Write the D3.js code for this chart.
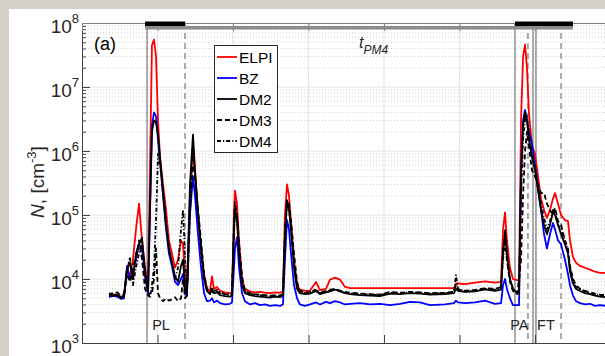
<!DOCTYPE html>
<html>
<head>
<meta charset="utf-8">
<script src="https://cdn.jsdelivr.net/npm/d3@7"></script>
<style>
  body { margin: 0; background: #d4d0c8; }
  svg { display: block; font-family: Arial, "Liberation Sans", sans-serif; }
</style>
</head>
<body>
<svg id="chart" width="605" height="356"></svg>
<script>
// time in minutes (one grid step = 60 min)
const timeMin = [21.5, 24.6, 27.8, 31.0, 33.4, 35.8, 38.1, 40.5, 42.9, 45.3, 47.7, 50.1, 52.5, 54.0, 55.6, 57.2, 58.8, 60.4, 62.0, 64.4,
  66.8, 69.1, 71.5, 73.9, 76.3, 78.7, 80.3, 81.9, 83.4, 85.8, 88.2, 89.8, 92.2, 94.6, 97.0, 99.3, 101.7, 103.3, 104.9, 107.3,
  109.7, 113.6, 117.6, 119.2, 120.8, 121.6, 123.2, 124.8, 127.2, 129.5, 133.5, 137.5, 141.5, 145.4, 149.4, 153.4, 157.4, 159.7, 161.3, 162.9,
  164.5, 166.1, 168.5, 170.9, 173.2, 177.2, 181.2, 186.0, 189.1, 193.9, 197.1, 201.1, 205.0, 209.0, 213.0, 220.9, 228.9, 236.8, 244.8, 252.7,
  260.7, 268.6, 276.6, 288.5, 295.6, 297.2, 298.8, 304.4, 312.3, 320.3, 328.2, 333.0, 334.6, 336.2, 337.7, 340.1, 342.5, 345.7, 347.3, 348.9,
  350.5, 352.1, 353.6, 355.2, 357.6, 360.0, 362.4, 364.8, 367.2, 369.5, 371.9, 374.3, 375.9, 378.3, 380.7, 383.8, 386.2, 387.8, 390.2, 392.6,
  395.8, 399.7, 403.7, 407.7, 411.6, 416.4];

const elpi = [5.5e3, 5.8e3, 5.5e3, 5.2e3, 5.6e3, 1.5e4, 1.1e4, 2.0e4, 6e4, 1.5e5, 4e4, 1.5e4, 8e3, 5e5, 4.5e7, 5.5e7, 3e7, 3e6, 8e5, 3e5,
  1.2e5, 4e4, 2.5e4, 1.5e4, 2e4, 4e4, 3.5e4, 1e4, 7e3, 2e5, 1.3e6, 5e5, 1e5, 3e4, 1.2e4, 7e3, 6.5e3, 1.1e4, 7e3, 7.5e3,
  6.5e3, 6.2e3, 6.0e3, 6.2e3, 1.2e5, 2.4e5, 1.5e5, 4e4, 1e4, 7e3, 6.4e3, 6.2e3, 6.3e3, 6.1e3, 6.0e3, 6.2e3, 6.1e3, 6.5e3, 1e5, 3e5,
  2e5, 8e4, 2e4, 8e3, 6.8e3, 6.5e3, 6.6e3, 9e3, 6.7e3, 7e3, 9.8e3, 1.05e4, 9.8e3, 7.5e3, 7.2e3, 7.2e3, 7.2e3, 7.2e3, 7.2e3, 7.2e3,
  7.2e3, 7.2e3, 7.2e3, 7.2e3, 7.2e3, 8.5e3, 8.5e3, 8.3e3, 8.8e3, 9.2e3, 8.8e3, 9e3, 6e4, 1.1e5, 4e4, 1.5e4, 1e4, 9.6e3, 9.6e3, 3e6,
  3e7, 4.6e7, 2e7, 4e6, 1.2e6, 9e5, 4e5, 1.8e5, 1.2e5, 9e4, 1.2e5, 1.8e5, 2.2e5, 1.5e5, 1e5, 8.3e4, 8e4, 4e4, 2.2e4, 1.8e4,
  1.6e4, 1.5e4, 1.4e4, 1.3e4, 1.25e4, 1.25e4];

const bz = [5.2e3, 5.5e3, 5.3e3, 4.9e3, 5.0e3, 1.6e4, 1.0e4, 1.2e4, 2.0e4, 3.5e4, 3e4, 1.1e4, 6e3, 1e5, 2.5e6, 4e6, 3.5e6, 1.5e6, 7e5, 2e5,
  6e4, 2.5e4, 1.6e4, 9e3, 8e3, 1e4, 1.2e4, 6e3, 5.5e3, 1e5, 4e5, 2e5, 5e4, 1.5e4, 6e3, 4.5e3, 4.6e3, 5e3, 4.3e3, 4.6e3,
  4.2e3, 4.0e3, 4.1e3, 4.3e3, 1.5e4, 3e4, 4.5e4, 1.5e4, 6e3, 4.5e3, 4.0e3, 4.2e3, 3.9e3, 4.0e3, 3.8e3, 3.9e3, 3.8e3, 4.0e3, 2e4, 8.4e4,
  6e4, 2.5e4, 8e3, 5e3, 4.0e3, 3.8e3, 4.0e3, 4.3e3, 4.0e3, 4.4e3, 4.2e3, 4.5e3, 4.3e3, 4.0e3, 4.1e3, 4.2e3, 4.0e3, 4.1e3, 3.9e3, 4.1e3,
  4.4e3, 4.3e3, 3.9e3, 4.0e3, 4.2e3, 4.6e3, 4.3e3, 4.2e3, 4.3e3, 4.6e3, 4.1e3, 4.2e3, 8e3, 1e4, 7e3, 5e3, 3.9e3, 3.9e3, 3.9e3, 5e5,
  3e6, 4.4e6, 3e6, 2e6, 1.3e6, 6e5, 2.5e5, 1.2e5, 5e4, 3e4, 5e4, 7.5e4, 6e4, 4e4, 3.5e4, 2e4, 1.2e4, 8e3, 5.5e3, 4.5e3,
  4.2e3, 4.0e3, 4.1e3, 3.8e3, 3.9e3, 3.8e3];

const dm2 = [5.6e3, 5.4e3, 5.7e3, 5.0e3, 5.4e3, 1.4e4, 1.8e4, 1.0e4, 2.5e4, 3.5e4, 4.4e4, 1.2e4, 6.5e3, 1.2e5, 2e6, 3e6, 2.8e6, 1.8e6, 8e5, 2.2e5,
  7e4, 3e4, 1.8e4, 1.1e4, 9e3, 1.6e4, 2e4, 7e3, 6e3, 3e5, 1.8e6, 5e5, 1.1e5, 3e4, 1e4, 6.5e3, 5.8e3, 7e3, 6e3, 6.2e3,
  5.6e3, 5.4e3, 5.3e3, 5.5e3, 6e4, 1.3e5, 8e4, 2.5e4, 8e3, 6e3, 5.6e3, 5.4e3, 5.3e3, 5.2e3, 5.1e3, 5.3e3, 5.2e3, 5.5e3, 4e4, 1.7e5,
  1.2e5, 6e4, 1.5e4, 7e3, 6e3, 5.8e3, 5.9e3, 6.5e3, 5.8e3, 6.2e3, 6.4e3, 6.8e3, 6.4e3, 6e3, 5.8e3, 5.6e3, 5.5e3, 5.4e3, 5.9e3, 5.8e3,
  6e3, 5.9e3, 5.7e3, 5.8e3, 6e3, 7e3, 6.5e3, 6.3e3, 6.4e3, 6.9e3, 6.5e3, 6.8e3, 2.5e4, 5.8e4, 2.5e4, 1e4, 7e3, 6e3, 6e3, 4e5,
  2.5e6, 4e6, 3e6, 1.5e6, 8e5, 5e5, 2.5e5, 1.2e5, 7e4, 5e4, 7e4, 1.1e5, 1e5, 7e4, 5e4, 3.5e4, 2.5e4, 1.3e4, 8.5e3, 7e3,
  6.5e3, 6e3, 5.8e3, 5.5e3, 5.3e3, 5.2e3];

const dm3 = [6.0e3, 5.6e3, 6.2e3, 5.5e3, 5.8e3, 1.2e4, 9e3, 1.6e4, 2.2e4, 4e4, 2e4, 7e3, 5.5e3, 6e3, 6e3, 1e4, 3e4, 6e3, 5e3, 4.5e3,
  5e3, 4.6e3, 4.8e3, 5.2e3, 4.5e3, 5e3, 1e4, 5e3, 5.5e3, 1.5e5, 6e5, 4e5, 1.2e5, 4e4, 1.2e4, 7e3, 6.2e3, 6.5e3, 6e3, 6.4e3,
  6e3, 5.8e3, 5.7e3, 5.9e3, 8e4, 1.6e5, 1e5, 3.5e4, 1.1e4, 6.5e3, 6e3, 5.8e3, 5.7e3, 5.6e3, 5.5e3, 5.6e3, 5.5e3, 5.8e3, 6e4, 1.5e5,
  1.5e5, 8e4, 2.5e4, 9e3, 6.5e3, 6.2e3, 6.3e3, 6.6e3, 6.2e3, 6.5e3, 6.8e3, 7e3, 6.6e3, 6.3e3, 6.1e3, 5.9e3, 5.8e3, 5.7e3, 6.3e3, 6.1e3,
  6.3e3, 6.2e3, 6.0e3, 6.1e3, 6.3e3, 8e3, 6.8e3, 6.6e3, 6.7e3, 7.2e3, 7e3, 7.5e3, 3e4, 5e4, 2e4, 9e3, 6.5e3, 5.8e3, 1e4, 2e4,
  2e5, 1e6, 2e6, 1.2e6, 5e5, 4e5, 3e5, 2.2e5, 2.2e5, 1.5e5, 1.2e5, 1e5, 1.3e5, 8e4, 7e4, 4e4, 3e4, 1.6e4, 1e4, 8e3,
  7e3, 6.5e3, 6.2e3, 5.9e3, 5.7e3, 5.6e3];

const dm4 = [5.8e3, 6.0e3, 5.5e3, 5.3e3, 5.6e3, 1.3e4, 2.2e4, 8e3, 1.5e4, 2.5e4, 3.5e4, 1.4e4, 6e3, 5e3, 8e3, 1.5e4, 8e4, 9e5, 6e5, 2.5e5,
  8e4, 3e4, 1.8e4, 1e4, 1.5e4, 6e4, 1.2e5, 2e4, 6e3, 1e5, 1e6, 4e5, 1e5, 3e4, 1.1e4, 6.5e3, 6e3, 7.5e3, 6.5e3, 6.8e3,
  6.2e3, 5.8e3, 5.6e3, 5.8e3, 5e4, 1.2e5, 9e4, 3e4, 9e3, 6.4e3, 5.9e3, 5.7e3, 5.6e3, 5.5e3, 5.4e3, 5.5e3, 5.4e3, 5.7e3, 5e4, 1.6e5,
  1.3e5, 6e4, 1.8e4, 8e3, 6.2e3, 6.0e3, 6e3, 7e3, 6e3, 6.3e3, 6.6e3, 7e3, 6.5e3, 6.2e3, 6e3, 5.8e3, 5.7e3, 5.6e3, 6.1e3, 6.0e3,
  6.2e3, 6.1e3, 5.9e3, 6e3, 6.2e3, 1.15e4, 7e3, 6.5e3, 6.6e3, 7e3, 6.8e3, 7.4e3, 2e4, 4e4, 2e4, 1e4, 7e3, 6e3, 6e3, 2e5,
  1.5e6, 3e6, 3.5e6, 2e6, 9e5, 6e5, 3e5, 1.5e5, 9e4, 6e4, 8e4, 1.2e5, 1.1e5, 7e4, 6e4, 4e4, 2.8e4, 1.5e4, 9e3, 7.5e3,
  7e3, 6.4e3, 6e3, 5.7e3, 5.5e3, 5.4e3];

const seriesNames = ["ELPI", "BZ", "DM2", "DM3", "DM4"];
const seriesValues = [elpi, bz, dm2, dm3, dm4];
const seriesColors = ["#ff0000", "#0000ff", "#000000", "#000000", "#000000"];
const seriesDash = [null, null, null, "5,3", "4,2,1.2,2"];

const eventTimes = [51.7, 81.9, 344.1, 354.4, 358.4, 360.8, 380.7];
const eventDashed = [false, true, false, true, false, false, true];
const periodNames = ["PL", "PA", "FT"];
const periodCentres = [62.8, 347.6, 368.7];
const pm4Spans = [[50.1, 81.9], [344.1, 390.2]];
const pm4Range = [50.1, 390.2];

const yMajor = [1e3, 1e4, 1e5, 1e6, 1e7, 1e8];
const xTicks = [0, 60, 120, 180, 240, 300, 360, 420];

const svg = d3.select("#chart");
svg.append("rect").attr("x", 9).attr("y", 9).attr("width", 600).attr("height", 350).attr("fill", "#fff");

const x = d3.scaleLinear().domain([0, 420]).range([82, 610.5]);
const y = d3.scaleLog().domain([1e3, 1e8]).range([343, 23]);

const yMinor = [];
for (let d = 3; d < 8; d++) for (let k = 2; k <= 9; k++) yMinor.push(k * Math.pow(10, d));

// grid
const grid = svg.append("g");
grid.selectAll(".mn").data(yMinor).enter().append("line")
  .attr("x1", 82).attr("x2", 605)
  .attr("y1", d => y(d)).attr("y2", d => y(d))
  .attr("stroke", "#cfcfcf").attr("stroke-dasharray", "1,2");
grid.selectAll(".mj").data(yMajor.slice(1, -1)).enter().append("line")
  .attr("x1", 82).attr("x2", 605)
  .attr("y1", d => y(d)).attr("y2", d => y(d))
  .attr("stroke", "#e3e3e3");
grid.selectAll(".vx").data(xTicks.slice(1)).enter().append("line")
  .attr("x1", d => x(d)).attr("x2", d => x(d))
  .attr("y1", 23).attr("y2", 343)
  .attr("stroke", "#e3e3e3");

// event markers
svg.append("g").selectAll("line").data(eventTimes).enter().append("line")
  .attr("x1", d => x(d)).attr("x2", d => x(d))
  .attr("y1", 23).attr("y2", 343)
  .attr("stroke", "#808080").attr("stroke-width", 1.3)
  .attr("stroke-dasharray", (d, i) => eventDashed[i] ? "6,4" : null);

svg.append("defs").append("clipPath").attr("id", "clip")
  .append("rect").attr("x", 82).attr("y", 23).attr("width", 530).attr("height", 320);

const line = d3.line().x(d => x(d[0])).y(d => y(d[1]));
svg.append("g").attr("clip-path", "url(#clip)")
  .selectAll("path").data(seriesValues).enter().append("path")
  .attr("d", vals => line(timeMin.map((t, i) => [t, vals[i]])))
  .attr("fill", "none")
  .attr("stroke", (d, i) => seriesColors[i])
  .attr("stroke-width", 1.8)
  .attr("stroke-dasharray", (d, i) => seriesDash[i])
  .attr("stroke-linejoin", "round");

// axes
const axisCol = "#404040";
const gl = svg.append("g").attr("transform", "translate(82,0)")
  .call(d3.axisLeft(y).tickValues(yMinor).tickSize(-4).tickSizeOuter(0).tickFormat(""));
gl.selectAll("line,path").attr("stroke", axisCol);
const gm = svg.append("g").attr("transform", "translate(82,0)")
  .call(d3.axisLeft(y).tickValues(yMajor).tickSize(-8).tickSizeOuter(0).tickFormat(""));
gm.selectAll("line,path").attr("stroke", axisCol);
gm.selectAll(".tick").each(function(d) {
  const t = d3.select(this).append("text")
    .attr("x", -3).attr("y", 9).attr("text-anchor", "end")
    .attr("fill", "#262626").attr("font-size", 19);
  t.append("tspan").text("10");
  t.append("tspan").attr("font-size", 13).attr("dy", -10).text(Math.round(Math.log10(d)));
});

const gb = svg.append("g").attr("transform", "translate(0,343)")
  .call(d3.axisBottom(x).tickValues(xTicks).tickSize(-8).tickSizeOuter(0).tickFormat(""));
gb.selectAll("line,path").attr("stroke", axisCol);
const gt = svg.append("g").attr("transform", "translate(0,23)")
  .call(d3.axisTop(x).tickValues(xTicks).tickSize(-8).tickSizeOuter(0).tickFormat(""));
gt.selectAll("line,path").attr("stroke", "#808080");

// PM4 period bars
svg.append("rect").attr("x", x(pm4Range[0])).attr("y", 26)
  .attr("width", x(pm4Range[1]) - x(pm4Range[0])).attr("height", 3.5).attr("fill", "#8c8c8c");
svg.append("g").selectAll("rect").data(pm4Spans).enter().append("rect")
  .attr("x", d => x(d[0])).attr("y", 21.5)
  .attr("width", d => x(d[1]) - x(d[0])).attr("height", 4.5).attr("fill", "#000");

// period labels
svg.append("g").selectAll("text").data(periodNames).enter().append("text")
  .attr("x", (d, i) => x(periodCentres[i])).attr("y", 330)
  .attr("text-anchor", "middle").attr("font-size", 14.5).attr("fill", "#262626")
  .text(d => d);

const tl = svg.append("text").attr("x", 359).attr("y", 48)
  .attr("font-style", "italic").attr("font-size", 16).attr("fill", "#262626");
tl.append("tspan").text("t");
tl.append("tspan").attr("font-size", 12).attr("dy", 6).text("PM4");

svg.append("text").attr("x", 94).attr("y", 50).attr("font-size", 18).attr("fill", "#000").text("(a)");

// y label
const yl = svg.append("text").attr("transform", "translate(44,182) rotate(-90)")
  .attr("text-anchor", "middle").attr("font-size", 19).attr("fill", "#262626");
yl.append("tspan").attr("font-style", "italic").text("N");
yl.append("tspan").text(", [cm");
yl.append("tspan").attr("font-size", 13).attr("dy", -8).text("-3");
yl.append("tspan").attr("dy", 8).text("]");

// legend
const lg = svg.append("g");
lg.append("rect").attr("x", 214.5).attr("y", 45.5).attr("width", 63).attr("height", 107)
  .attr("fill", "#fff").attr("stroke", "#262626");
const rows = lg.selectAll(".row").data(seriesNames).enter().append("g")
  .attr("transform", (d, i) => `translate(0,${57 + i * 21})`);
rows.append("line").attr("x1", 217).attr("x2", 237)
  .attr("stroke", (d, i) => seriesColors[i]).attr("stroke-width", 1.8)
  .attr("stroke-dasharray", (d, i) => seriesDash[i]);
rows.append("text").attr("x", 239).attr("y", 5.5).attr("font-size", 15.5).attr("fill", "#000").text(d => d);
</script>
</body>
</html>
